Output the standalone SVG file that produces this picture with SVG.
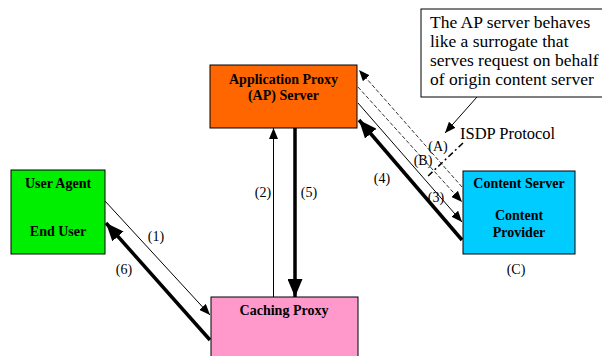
<svg xmlns="http://www.w3.org/2000/svg" width="602" height="356" viewBox="0 0 602 356" font-family="Liberation Serif, serif">
<style>
.box{stroke:#000;stroke-width:1}
.nt{font-weight:bold;font-size:14px;text-anchor:middle;fill:#000}
.lb{font-size:14px;text-anchor:middle;fill:#000}
.co{font-size:17.5px;fill:#000}
.thin{stroke:#000;stroke-width:1;fill:none}
.dash{stroke:#000;stroke-width:0.8;fill:none;stroke-dasharray:4,2}
.thick{stroke:#000;stroke-width:3.5;fill:none}
</style>
<defs>
<marker id="ah" markerUnits="userSpaceOnUse" markerWidth="11" markerHeight="9" refX="11" refY="4.5" orient="auto"><path d="M0,0 L11,4.5 L0,9 z" fill="#000"/></marker>
<marker id="ahb" markerUnits="userSpaceOnUse" markerWidth="18" markerHeight="15" refX="18" refY="7.5" orient="auto"><path d="M0,0 L18,7.5 L0,15 z" fill="#000"/></marker>
</defs>
<g id="connectors">
<line class="thin" x1="105" y1="201" x2="210" y2="315" marker-end="url(#ah)"/>
<line class="thick" x1="210" y1="340" x2="106" y2="223" marker-end="url(#ahb)"/>
<line class="thin" x1="273.5" y1="297" x2="273.5" y2="128" marker-end="url(#ah)"/>
<line class="thick" x1="295" y1="128" x2="295" y2="297" marker-end="url(#ahb)"/>
<line class="dash" x1="462" y1="187" x2="359" y2="70" marker-end="url(#ah)"/>
<line class="dash" x1="358" y1="87" x2="462" y2="202" marker-end="url(#ah)"/>
<line class="thin" x1="358" y1="103" x2="462" y2="222" marker-end="url(#ah)"/>
<line class="thick" x1="462" y1="240" x2="359" y2="120" marker-end="url(#ahb)"/>
<line stroke="#000" stroke-width="1.5" stroke-dasharray="6,3,2,3" x1="463" y1="143" x2="427" y2="177"/>
<line class="thin" x1="477" y1="97" x2="445" y2="133" marker-end="url(#ah)"/>
<text class="lb" x="156" y="241">(1)</text>
<text class="lb" x="124" y="274">(6)</text>
<text class="lb" x="263" y="197">(2)</text>
<text class="lb" x="309" y="197">(5)</text>
<text class="lb" x="438" y="151">(A)</text>
<text class="lb" x="423" y="165">(B)</text>
<text class="lb" x="436" y="202">(3)</text>
<text class="lb" x="382" y="183">(4)</text>
<text class="lb" x="516" y="274">(C)</text>
<text font-size="16.5" x="460" y="139">ISDP Protocol</text>
</g>
<g id="ap-server">
<rect class="box" x="210" y="65" width="147" height="63" fill="#FF6600"/>
<text class="nt" x="283.5" y="84">Application Proxy</text>
<text class="nt" x="283.5" y="100">(AP) Server</text>
</g>
<g id="content-server">
<rect class="box" x="463" y="171" width="112" height="83" fill="#00CCFF"/>
<text class="nt" x="519" y="188">Content Server</text>
<text class="nt" x="519" y="220">Content</text>
<text class="nt" x="519" y="237">Provider</text>
</g>
<g id="user-agent">
<rect class="box" x="11" y="170" width="94" height="84" fill="#00EE00"/>
<text class="nt" x="58" y="188">User Agent</text>
<text class="nt" x="58" y="236">End User</text>
</g>
<g id="caching-proxy">
<rect class="box" x="211" y="297" width="147" height="70" fill="#FF99CC"/>
<text class="nt" x="284" y="315">Caching Proxy</text>
</g>
<g id="callout">
<rect class="box" x="421" y="9" width="182" height="88" fill="#FFFFFF"/>
<text class="co" x="430" y="28">The AP server behaves</text>
<text class="co" x="430" y="47">like a surrogate that</text>
<text class="co" x="430" y="66">serves request on behalf</text>
<text class="co" x="430" y="85">of origin content server</text>
</g>
</svg>
